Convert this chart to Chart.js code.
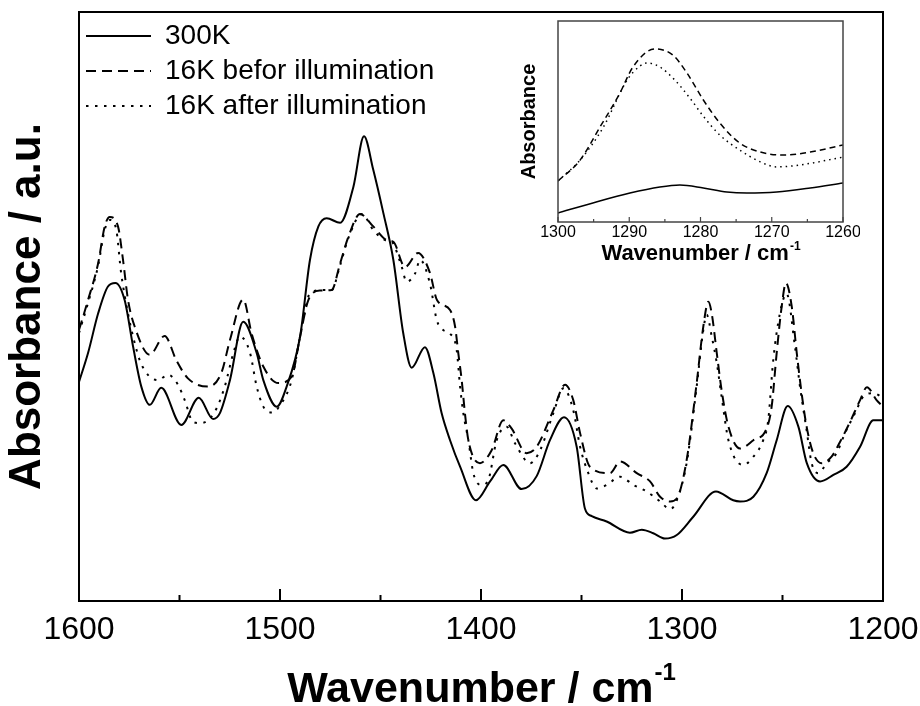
<!DOCTYPE html>
<html>
<head>
<meta charset="utf-8">
<script src="https://cdn.jsdelivr.net/npm/chart.js@4.4.0/dist/chart.umd.min.js"></script>
<style>
  html, body { margin: 0; padding: 0; background: #fff; }
  #wrap { position: relative; width: 920px; height: 706px; }
  #mainChart { position: absolute; left: 0; top: 0; }
  #insetChart { position: absolute; left: 500px; top: 0; }
</style>
</head>
<body>
<div id="wrap">
  <canvas id="mainChart" width="920" height="706"></canvas>
  <canvas id="insetChart" width="360" height="270"></canvas>
</div>
<script>
const FONT = "'Liberation Sans', Arial, sans-serif";

// --- main spectrum (arbitrary absorbance units) ---
const wn300 = [1600,1595.5,1590.5,1585.6,1581.9,1577.3,1573.1,1569,1564.8,1559.1,1549.1,1540.4,1533.3,1529.9,1524.9,1518.3,1511.6,1508.3,1501.6,1496.7,1490,1485.1,1480.9,1476.8,1470.1,1463.5,1458.2,1453.6,1448.6,1443.6,1438.7,1434.5,1427.9,1423.7,1419.6,1415.4,1410.4,1402.5,1395.5,1388.9,1379.8,1372.3,1365.7,1358.7,1352.4,1348.3,1344.9,1337.5,1325.9,1320,1314.3,1308.5,1302.6,1294.4,1283.1,1274.5,1271.1,1264.5,1257.9,1252.9,1247.4,1242.1,1237.9,1231.3,1224.7,1218.1,1211.4,1204.8,1200];
const abs300 = [0.372,0.421,0.488,0.534,0.540,0.511,0.432,0.364,0.333,0.362,0.299,0.345,0.309,0.319,0.375,0.474,0.421,0.375,0.330,0.364,0.449,0.579,0.636,0.650,0.642,0.703,0.789,0.732,0.659,0.579,0.455,0.396,0.431,0.387,0.319,0.273,0.228,0.171,0.203,0.231,0.190,0.212,0.273,0.312,0.262,0.157,0.144,0.135,0.116,0.121,0.115,0.106,0.112,0.143,0.186,0.171,0.169,0.177,0.217,0.273,0.331,0.296,0.234,0.203,0.214,0.228,0.262,0.307,0.307];

const wnBefore = [1600,1595.5,1590.5,1587.2,1584.7,1580.6,1578.1,1575.6,1572.3,1564.8,1557.4,1551.6,1545.8,1535.8,1529.2,1524.9,1518.3,1514.1,1508.3,1500.8,1494.2,1490,1485.9,1480.1,1474.3,1470.1,1466,1460.2,1453.6,1446.9,1443.6,1437.8,1431.3,1425.4,1421.9,1415.4,1412.9,1411.3,1409.6,1408,1406.3,1400.5,1394.7,1388.9,1384.8,1377.3,1372.3,1364,1358.2,1354.1,1350.7,1345.8,1335.8,1330.8,1322.5,1315.9,1310.9,1305.9,1302.6,1297.7,1292.7,1289.4,1286.9,1285.2,1282.7,1280.3,1276.9,1271.1,1264.5,1257.9,1255.4,1252.9,1250.4,1248.3,1245.4,1242.9,1240.5,1238,1234.7,1230.5,1225.6,1221.4,1216.4,1211.4,1208,1203.2,1200];
const absBefore = [0.460,0.511,0.573,0.636,0.652,0.636,0.579,0.511,0.466,0.418,0.450,0.409,0.378,0.364,0.387,0.443,0.512,0.454,0.398,0.370,0.381,0.449,0.511,0.527,0.528,0.573,0.618,0.657,0.636,0.613,0.610,0.567,0.591,0.557,0.511,0.494,0.466,0.421,0.375,0.319,0.273,0.234,0.256,0.307,0.293,0.251,0.262,0.324,0.367,0.341,0.285,0.228,0.217,0.237,0.217,0.203,0.177,0.169,0.174,0.239,0.370,0.466,0.508,0.488,0.421,0.358,0.296,0.259,0.273,0.293,0.330,0.421,0.500,0.540,0.500,0.421,0.353,0.296,0.251,0.234,0.245,0.270,0.304,0.341,0.363,0.341,0.330];

const wnAfter = [1600,1595.5,1590.5,1587.2,1584.7,1581.6,1579,1575.6,1573.1,1569.8,1565.7,1560.7,1555.7,1550.7,1547.4,1543.3,1539.2,1532.5,1527.5,1523.2,1519.9,1514.9,1511.6,1508.3,1504.1,1499.2,1494.2,1490,1485.1,1478.5,1474.3,1470.1,1466,1459.2,1453.6,1447.8,1444.4,1439.5,1437,1432.8,1430.3,1425.4,1422,1418.8,1415.4,1412.1,1410.4,1408.8,1406.3,1403.8,1399.7,1396.4,1392.2,1387.3,1383.1,1375.6,1370.6,1364,1359,1354.1,1350.7,1346.6,1342.4,1337.5,1330.8,1324.2,1317.6,1310.9,1305.9,1302.6,1297.7,1292.7,1289.4,1287.7,1285.2,1282.7,1280.3,1276.9,1269.5,1264.5,1259.6,1257.1,1254.6,1251.3,1248,1243.8,1241.3,1238,1235.5,1232.2,1228,1223.1,1218.9,1213.9,1209.8,1204.8,1200];
const absAfter = [0.455,0.506,0.569,0.630,0.647,0.633,0.556,0.488,0.449,0.409,0.384,0.375,0.384,0.367,0.341,0.304,0.302,0.321,0.364,0.421,0.449,0.421,0.364,0.330,0.320,0.336,0.375,0.449,0.522,0.528,0.528,0.570,0.616,0.657,0.630,0.613,0.610,0.568,0.542,0.556,0.579,0.539,0.477,0.460,0.454,0.426,0.364,0.319,0.273,0.217,0.197,0.205,0.273,0.296,0.268,0.234,0.256,0.319,0.361,0.324,0.262,0.217,0.191,0.197,0.211,0.197,0.186,0.169,0.156,0.171,0.234,0.364,0.460,0.486,0.449,0.404,0.347,0.273,0.231,0.245,0.273,0.307,0.409,0.488,0.522,0.432,0.364,0.290,0.234,0.217,0.234,0.251,0.285,0.319,0.347,0.353,0.345];

// --- inset, 1300-1260 cm-1 ---
const insetWn300 = [1300,1295.1,1289.9,1285.7,1282.9,1279.6,1276.3,1273.5,1269.3,1264.6,1260];
const insetAbs300 = [0.045,0.095,0.144,0.174,0.184,0.169,0.149,0.144,0.149,0.169,0.194];
const insetWnBefore = [1300,1296.9,1294.1,1291.3,1289.5,1286.4,1283.9,1281.9,1279.6,1277.3,1274.5,1271.6,1268.4,1264.6,1260];
const insetAbsBefore = [0.204,0.308,0.473,0.642,0.770,0.861,0.831,0.741,0.607,0.493,0.393,0.348,0.333,0.348,0.383];
const insetWnAfter = [1300,1296.9,1293.7,1290.3,1288.5,1287.5,1285.7,1283.6,1281.5,1279.4,1277.3,1274.5,1271.6,1269.3,1266,1260];
const insetAbsAfter = [0.204,0.308,0.468,0.706,0.776,0.791,0.771,0.706,0.617,0.517,0.433,0.358,0.299,0.274,0.284,0.323];

const seriesLabels = ['300K', '16K befor illumination', '16K after illumination'];
const xTicksMain = [1600, 1500, 1400, 1300, 1200];
const xTicksInset = [1300, 1290, 1280, 1270, 1260];

const toPoints = (xs, ys) => xs.map((x, i) => ({ x: x, y: ys[i] }));

// legend items with the dataset's own dash and width (point-style labels lose them)
function lineLegendLabels(chart) {
    const items = Chart.defaults.plugins.legend.labels.generateLabels(chart);
    items.forEach(item => {
        const ds = chart.data.datasets[item.datasetIndex];
        item.lineDash = ds.borderDash || [];
        item.lineWidth = ds.borderWidth;
        item.strokeStyle = ds.borderColor;
    });
    return items;
}

// scale labels may not push the plot area in
function noLabelPadding(s) {
    s.paddingLeft = 0;
    s.paddingRight = 0;
    s.paddingTop = 0;
    s.paddingBottom = 0;
}

/**
 * Frame, inward tick marks and x-axis title with superscript.
 */
const frameTicks = {
    id: 'frameTicks',
    afterDatasetsDraw(chart, args, opts) {
        const { ctx, chartArea: a } = chart;
        const x = chart.scales.x;
        ctx.save();
        ctx.setLineDash([]);
        ctx.strokeStyle = opts.color;
        ctx.lineWidth = opts.frameWidth;
        ctx.strokeRect(a.left, a.top, a.right - a.left, a.bottom - a.top);

        ctx.lineWidth = opts.tickWidth;
        for (let v = x.min; v <= x.max + 1e-6; v += opts.minorStep) {
            const px = x.getPixelForValue(v);
            const major = Math.abs(v % opts.majorStep) < 1e-6;
            const len = major ? opts.majorLen : opts.minorLen;
            ctx.beginPath();
            ctx.moveTo(px, a.bottom);
            ctx.lineTo(px, a.bottom - len);
            ctx.stroke();
        }

        // x title: "Wavenumber / cm" + superscript "-1", centred as a whole
        const t = opts.title;
        ctx.fillStyle = '#000';
        ctx.textBaseline = 'alphabetic';
        ctx.textAlign = 'left';
        ctx.font = `bold ${t.size}px ${FONT}`;
        const w1 = ctx.measureText(t.text).width;
        ctx.font = `bold ${t.supSize}px ${FONT}`;
        const w2 = ctx.measureText(t.sup).width;
        const x0 = (a.left + a.right) / 2 - (w1 + w2) / 2;
        ctx.font = `bold ${t.size}px ${FONT}`;
        ctx.fillText(t.text, x0, t.baseline);
        ctx.font = `bold ${t.supSize}px ${FONT}`;
        ctx.fillText(t.sup, x0 + w1 + 1, t.baseline - t.rise);
        ctx.restore();
    }
};

function renderMainChart() {
    const ctx = document.getElementById('mainChart').getContext('2d');
    new Chart(ctx, {
        type: 'line',
        data: {
            datasets: [
                {
                    label: seriesLabels[0],
                    data: toPoints(wn300, abs300),
                    borderColor: '#000',
                    borderWidth: 2,
                    pointRadius: 0,
                    cubicInterpolationMode: 'monotone'
                },
                {
                    label: seriesLabels[1],
                    data: toPoints(wnBefore, absBefore),
                    borderColor: '#000',
                    borderWidth: 2,
                    borderDash: [10, 6],
                    pointRadius: 0,
                    cubicInterpolationMode: 'monotone'
                },
                {
                    label: seriesLabels[2],
                    data: toPoints(wnAfter, absAfter),
                    borderColor: '#000',
                    borderWidth: 2,
                    borderDash: [2.5, 6.5],
                    pointRadius: 0,
                    cubicInterpolationMode: 'monotone'
                }
            ]
        },
        options: {
            responsive: false,
            animation: false,
            layout: { padding: { top: 12, right: 37, left: 0, bottom: 0 } },
            plugins: {
                tooltip: { enabled: false },
                legend: {
                    position: 'chartArea',
                    align: 'start',
                    title: { display: true, text: '', padding: 0, font: { size: 15, lineHeight: 1 } },
                    labels: {
                        usePointStyle: true,
                        pointStyle: 'line',
                        pointStyleWidth: 65,
                        padding: 7,
                        color: '#000',
                        font: { family: FONT, size: 28 },
                        generateLabels: lineLegendLabels
                    }
                },
                frameTicks: {
                    color: '#000', frameWidth: 2, tickWidth: 2,
                    majorStep: 100, minorStep: 50, majorLen: 12, minorLen: 6,
                    title: { text: 'Wavenumber / cm', sup: '-1', size: 43, supSize: 24, baseline: 702, rise: 22 }
                }
            },
            scales: {
                x: {
                    type: 'linear',
                    reverse: true,
                    min: 1200,
                    max: 1600,
                    afterFit: (s) => { s.height = 105; noLabelPadding(s); },
                    afterBuildTicks: (s) => { s.ticks = xTicksMain.map(v => ({ value: v })); },
                    grid: { display: false, drawTicks: false },
                    border: { display: false },
                    ticks: {
                        padding: 10,
                        color: '#000',
                        font: { family: FONT, size: 32 },
                        callback: (v) => String(v)
                    }
                },
                y: {
                    min: 0,
                    max: 1,
                    afterFit: (s) => { s.width = 79; noLabelPadding(s); },
                    grid: { display: false, drawTicks: false },
                    border: { display: false },
                    ticks: { display: false },
                    title: {
                        display: true,
                        text: 'Absorbance / a.u.',
                        color: '#000',
                        font: { family: FONT, size: 44, weight: 'bold', lineHeight: 0.9 },
                        padding: { top: 8, bottom: 0 }
                    }
                }
            }
        },
        plugins: [frameTicks]
    });
}

function renderInsetChart() {
    const ctx = document.getElementById('insetChart').getContext('2d');
    new Chart(ctx, {
        type: 'line',
        data: {
            datasets: [
                {
                    label: seriesLabels[0],
                    data: toPoints(insetWn300, insetAbs300),
                    borderColor: '#000',
                    borderWidth: 1.5,
                    pointRadius: 0,
                    cubicInterpolationMode: 'monotone'
                },
                {
                    label: seriesLabels[1],
                    data: toPoints(insetWnBefore, insetAbsBefore),
                    borderColor: '#000',
                    borderWidth: 1.5,
                    borderDash: [6, 4],
                    pointRadius: 0,
                    cubicInterpolationMode: 'monotone'
                },
                {
                    label: seriesLabels[2],
                    data: toPoints(insetWnAfter, insetAbsAfter),
                    borderColor: '#000',
                    borderWidth: 1.5,
                    borderDash: [1.5, 4],
                    pointRadius: 0,
                    cubicInterpolationMode: 'monotone'
                }
            ]
        },
        options: {
            responsive: false,
            animation: false,
            layout: { padding: { top: 21, right: 17, left: 0, bottom: 0 } },
            plugins: {
                tooltip: { enabled: false },
                legend: { display: false },
                frameTicks: {
                    color: '#444', frameWidth: 1.5, tickWidth: 1.2,
                    majorStep: 10, minorStep: 5, majorLen: 5, minorLen: 3,
                    title: { text: 'Wavenumber / cm', sup: '-1', size: 22, supSize: 12, baseline: 260, rise: 10 }
                }
            },
            scales: {
                x: {
                    type: 'linear',
                    reverse: true,
                    min: 1260,
                    max: 1300,
                    afterFit: (s) => { s.height = 48; noLabelPadding(s); },
                    afterBuildTicks: (s) => { s.ticks = xTicksInset.map(v => ({ value: v })); },
                    grid: { display: false, drawTicks: false },
                    border: { display: false },
                    ticks: {
                        padding: 3,
                        color: '#000',
                        font: { family: FONT, size: 16, lineHeight: 1 },
                        callback: (v) => String(v)
                    }
                },
                y: {
                    min: 0,
                    max: 1,
                    afterFit: (s) => { s.width = 58; noLabelPadding(s); },
                    grid: { display: false, drawTicks: false },
                    border: { display: false },
                    ticks: { display: false },
                    title: {
                        display: true,
                        text: 'Absorbance',
                        color: '#000',
                        font: { family: FONT, size: 20, weight: 'bold', lineHeight: 1 },
                        padding: { top: 19, bottom: 0 }
                    }
                }
            }
        },
        plugins: [frameTicks]
    });
}

renderMainChart();
renderInsetChart();
</script>
</body>
</html>
